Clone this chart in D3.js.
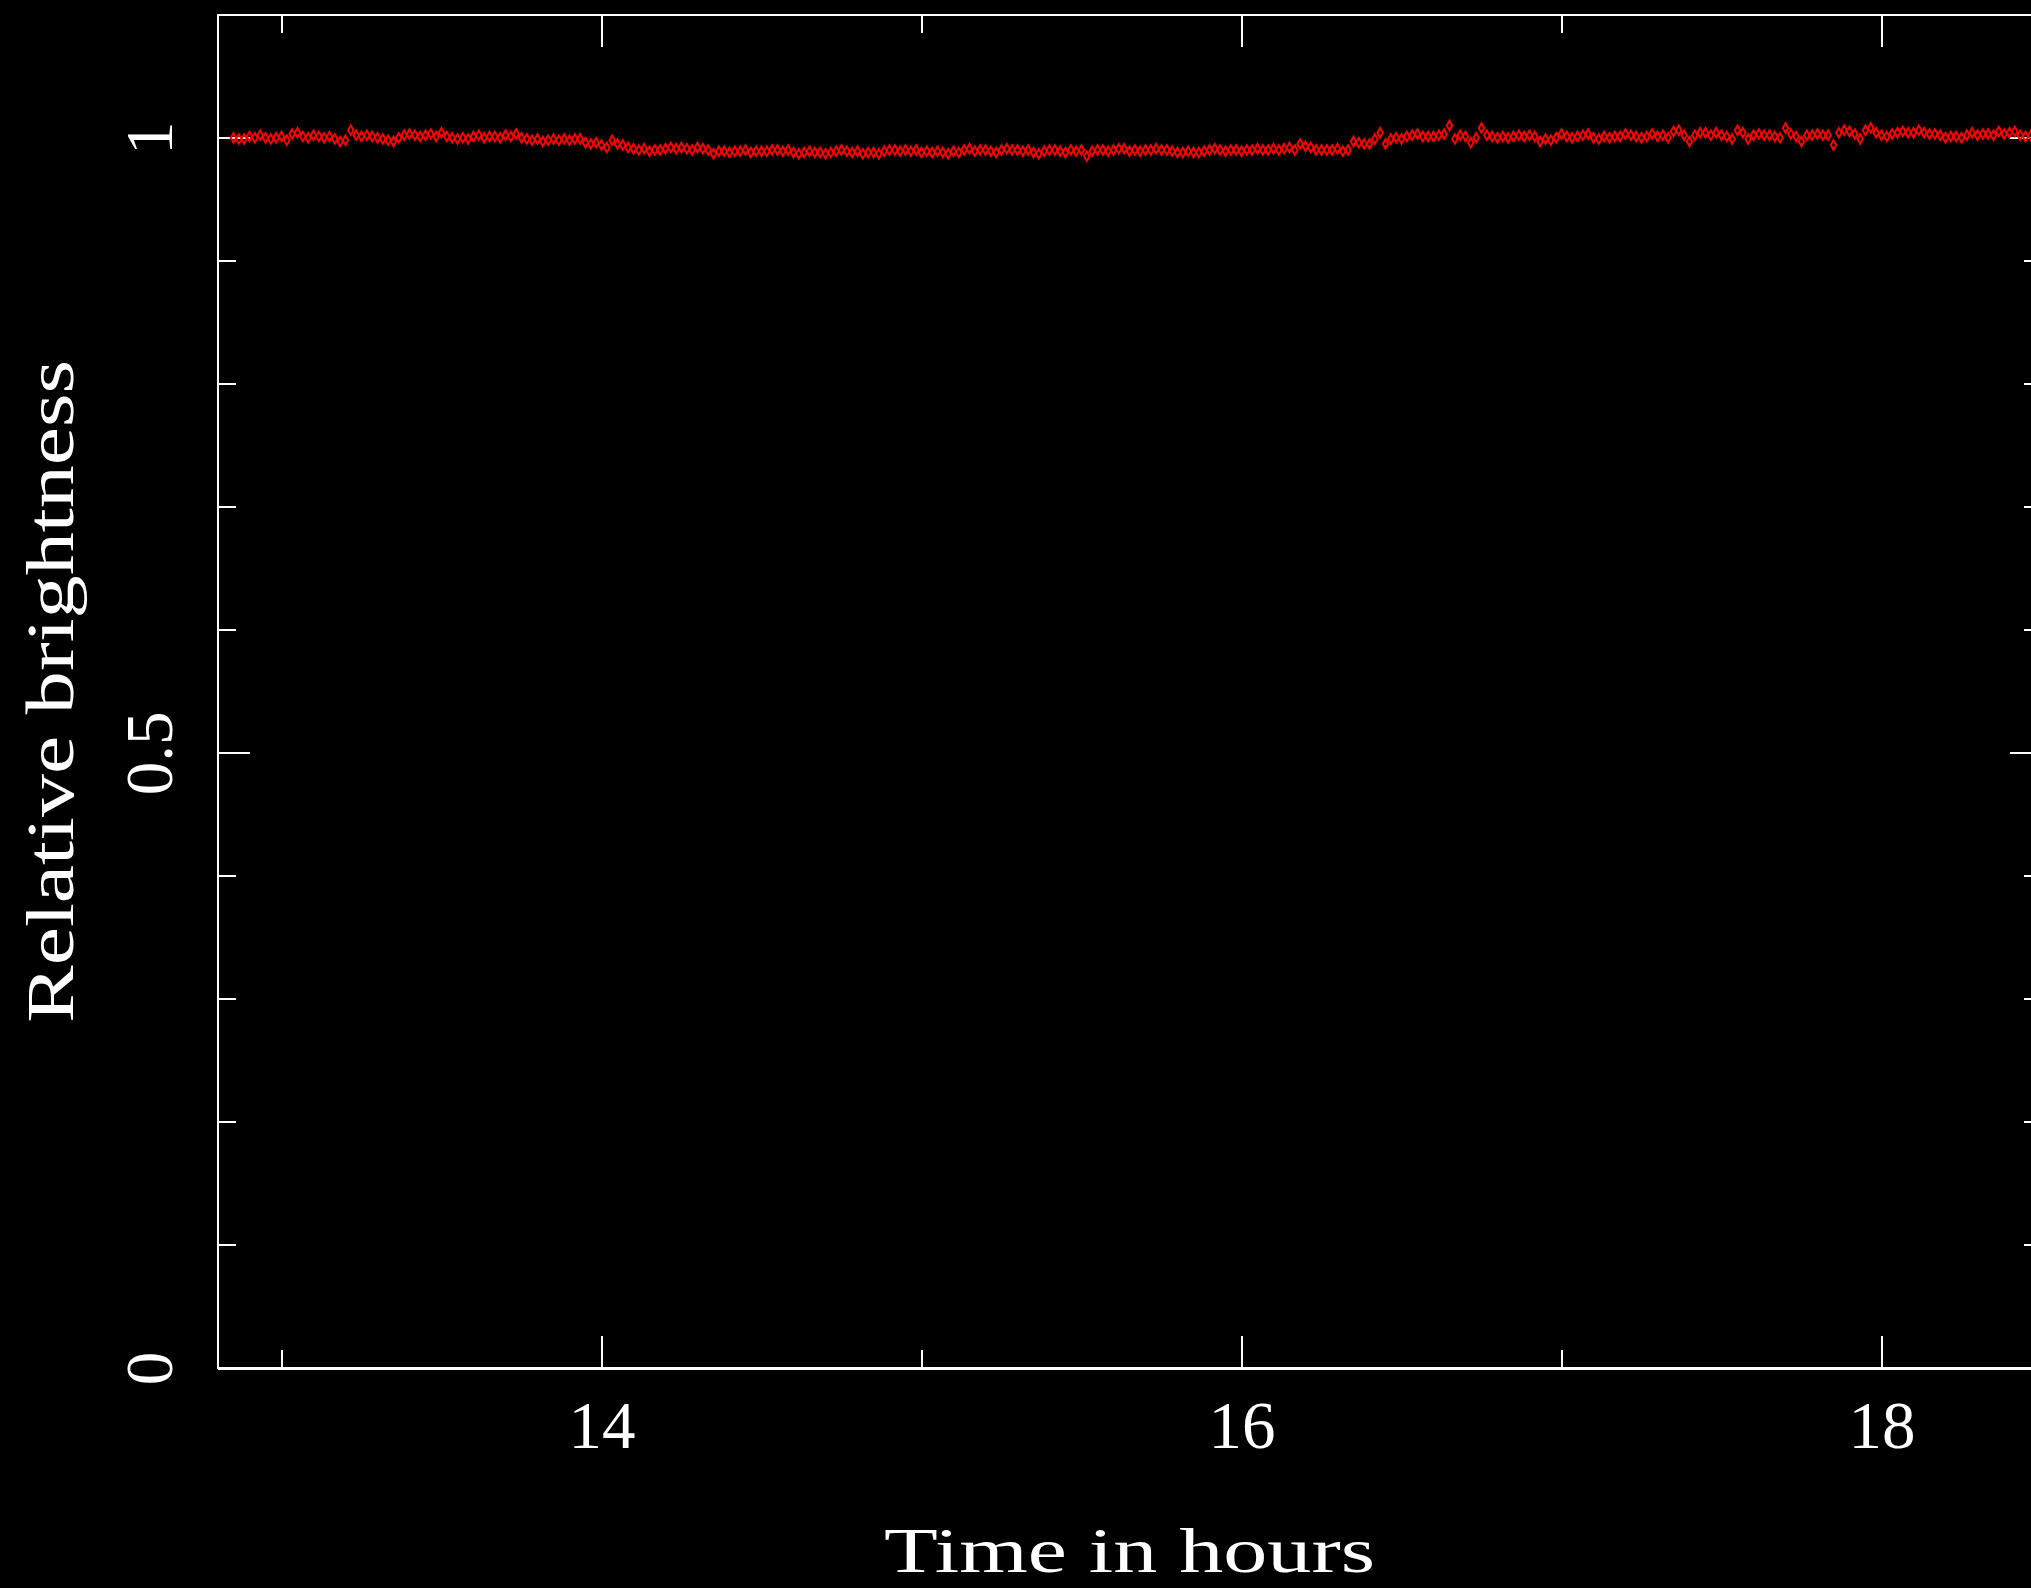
<!DOCTYPE html>
<html>
<head>
<meta charset="utf-8">
<script src="https://cdn.jsdelivr.net/npm/d3@7"></script>
<style>
  html, body { margin: 0; padding: 0; background: #000; }
  svg { display: block; }
</style>
</head>
<body>
<script>
// ---- data ----
const startHour = 12.85;          // time of first sample (hours)
const cadenceHours = 1 / 60;      // one sample per minute
const brightness = [
  // 12.85 - 13.17
  1.000, 0.999, 0.999, 1.001, 1.000, 1.002, 1.000, 0.999, 1.000, 1.001,
  0.998, 1.003, 1.004, 1.001, 1.000, 1.002, 1.001, 1.000, 1.001, 0.999,
  // 13.18 - 13.50
  0.997, 0.998, 1.006, 1.002, 1.001, 1.002, 1.001, 1.000, 0.999, 0.998,
  0.997, 1.000, 1.002, 1.003, 1.002, 1.001, 1.002, 1.003, 1.001, 1.004,
  // 13.52 - 13.83
  1.001, 1.000, 0.999, 1.000, 0.999, 1.001, 1.002, 1.000, 1.001, 1.001,
  1.000, 1.002, 1.001, 1.003, 1.000, 0.999, 0.998, 0.999, 0.997, 0.998,
  // 13.85 - 14.17
  0.999, 0.998, 0.999, 0.998, 0.999, 0.999, 0.996, 0.995, 0.996, 0.994,
  0.992, 0.998, 0.995, 0.994, 0.992, 0.991, 0.990, 0.991, 0.989, 0.990,
  // 14.18 - 14.50
  0.990, 0.991, 0.992, 0.991, 0.992, 0.991, 0.990, 0.992, 0.991, 0.990,
  0.987, 0.989, 0.989, 0.988, 0.989, 0.989, 0.990, 0.988, 0.989, 0.989,
  // 14.52 - 14.83
  0.989, 0.990, 0.990, 0.989, 0.990, 0.988, 0.987, 0.988, 0.989, 0.988,
  0.988, 0.987, 0.988, 0.989, 0.990, 0.989, 0.988, 0.989, 0.987, 0.988,
  // 14.85 - 15.17
  0.988, 0.987, 0.989, 0.990, 0.990, 0.989, 0.990, 0.989, 0.990, 0.988,
  0.989, 0.988, 0.989, 0.988, 0.987, 0.989, 0.988, 0.990, 0.991, 0.989,
  // 15.18 - 15.50
  0.990, 0.990, 0.989, 0.988, 0.990, 0.991, 0.990, 0.990, 0.989, 0.990,
  0.988, 0.987, 0.989, 0.990, 0.990, 0.989, 0.988, 0.990, 0.989, 0.990,
  // 15.52 - 15.83
  0.985, 0.989, 0.990, 0.990, 0.989, 0.990, 0.991, 0.991, 0.989, 0.990,
  0.989, 0.990, 0.990, 0.991, 0.990, 0.990, 0.989, 0.988, 0.988, 0.989,
  // 15.85 - 16.17
  0.988, 0.988, 0.989, 0.990, 0.991, 0.990, 0.989, 0.990, 0.990, 0.989,
  0.990, 0.990, 0.991, 0.990, 0.990, 0.991, 0.990, 0.991, 0.992, 0.990,
  // 16.18 - 16.50
  0.995, 0.993, 0.992, 0.990, 0.990, 0.990, 0.990, 0.991, 0.989, 0.990,
  0.997, 0.996, 0.995, 0.995, 0.999, 1.004, 0.995, 0.999, 1.000, 0.999,
  // 16.52 - 16.83
  1.001, 1.002, 1.003, 1.001, 1.001, 1.001, 1.002, 1.003, 1.010, 0.999,
  1.002, 1.001, 0.996, 1.000, 1.008, 1.002, 1.001, 1.000, 1.001, 1.000,
  // 16.85 - 17.17
  1.001, 1.002, 1.001, 1.002, 1.001, 0.997, 0.999, 0.998, 1.000, 1.003,
  1.001, 1.000, 1.001, 1.002, 1.003, 1.000, 0.999, 1.001, 1.000, 1.001,
  // 17.18 - 17.50
  1.001, 1.003, 1.002, 1.001, 1.000, 1.001, 1.003, 1.001, 1.002, 1.000,
  1.005, 1.006, 1.002, 0.997, 1.002, 1.004, 1.004, 1.002, 1.004, 1.002,
  // 17.52 - 17.83
  1.001, 0.999, 1.006, 1.004, 0.999, 1.002, 1.003, 1.002, 1.002, 1.001,
  1.000, 1.008, 1.003, 1.001, 0.997, 1.002, 1.002, 1.003, 1.002, 1.002,
  // 17.85 - 18.17
  0.994, 1.004, 1.006, 1.005, 1.003, 0.999, 1.006, 1.008, 1.004, 1.002,
  1.001, 1.003, 1.004, 1.005, 1.004, 1.004, 1.006, 1.004, 1.003, 1.003,
  // 18.18 - 18.48
  1.002, 1.000, 1.001, 1.001, 1.000, 1.002, 1.004, 1.002, 1.003, 1.003,
  1.002, 1.005, 1.003, 1.004, 1.005, 1.002, 1.001, 1.002, 1.001
];

const xDomain = [12.8, 18.5];
const yDomain = [0, 1.1];
const xMajorTicks = [14, 16, 18];
const xMinorTicks = [13, 15, 17];
const xTickLabels = ["14", "16", "18"];
const yMajorTicks = [0, 0.5, 1];
const yMinorTicks = [0.1, 0.2, 0.3, 0.4, 0.6, 0.7, 0.8, 0.9];
const yTickLabels = ["0", "0.5", "1"];
const xTitle = "Time in hours";
const yTitle = "Relative brightness";

// ---- layout ----
const W = 2031, H = 1588;
const plotLeft = 217.5, plotRight = 2041.5, plotTop = 14.7, plotBottom = 1368;
const majorLen = 32, minorLen = 18;
const fontFamily = "'Liberation Serif', 'DejaVu Serif', serif";
const red = "#ff0000";

const svg = d3.select("body").append("svg")
  .attr("width", W).attr("height", H)
  .style("background", "#000");

svg.append("rect").attr("width", W).attr("height", H).attr("fill", "#000");

const x = d3.scaleLinear().domain(xDomain).range([plotLeft, plotRight]);
const y = d3.scaleLinear().domain(yDomain).range([plotBottom, plotTop]);

function styleAxis(g) {
  g.selectAll("path, line").attr("stroke", "#fff").attr("stroke-width", 2)
    .attr("shape-rendering", "crispEdges");
  g.selectAll("text").attr("fill", "#fff")
    .attr("font-family", fontFamily).attr("font-size", 67);
}

// bottom axis (major with labels, minor without)
const gBottom = svg.append("g").attr("transform", `translate(0,${plotBottom})`)
  .call(d3.axisBottom(x).tickValues(xMajorTicks).tickSize(-majorLen).tickSizeOuter(0)
    .tickFormat((d, i) => xTickLabels[i]));
gBottom.selectAll("text").attr("y", 80).attr("dy", 0);
styleAxis(gBottom);
const gBottomMinor = svg.append("g").attr("transform", `translate(0,${plotBottom})`)
  .call(d3.axisBottom(x).tickValues(xMinorTicks).tickSize(-minorLen).tickSizeOuter(0).tickFormat(""));
styleAxis(gBottomMinor);

// top axis
const gTop = svg.append("g").attr("transform", `translate(0,${plotTop})`)
  .call(d3.axisTop(x).tickValues(xMajorTicks).tickSize(-majorLen).tickSizeOuter(0).tickFormat(""));
styleAxis(gTop);
const gTopMinor = svg.append("g").attr("transform", `translate(0,${plotTop})`)
  .call(d3.axisTop(x).tickValues(xMinorTicks).tickSize(-minorLen).tickSizeOuter(0).tickFormat(""));
styleAxis(gTopMinor);

// left axis
const gLeft = svg.append("g").attr("transform", `translate(${plotLeft},0)`)
  .call(d3.axisLeft(y).tickValues(yMajorTicks).tickSize(-majorLen).tickSizeOuter(0)
    .tickFormat((d, i) => yTickLabels[i]));
gLeft.selectAll("text")
  .attr("x", null).attr("dy", null)
  .attr("text-anchor", "middle")
  .attr("transform", `translate(${172 - plotLeft},0) rotate(-90)`);
styleAxis(gLeft);
const gLeftMinor = svg.append("g").attr("transform", `translate(${plotLeft},0)`)
  .call(d3.axisLeft(y).tickValues(yMinorTicks).tickSize(-minorLen).tickSizeOuter(0).tickFormat(""));
styleAxis(gLeftMinor);

// right axis
const gRight = svg.append("g").attr("transform", `translate(${plotRight},0)`)
  .call(d3.axisRight(y).tickValues(yMajorTicks).tickSize(-majorLen).tickSizeOuter(0).tickFormat(""));
styleAxis(gRight);
const gRightMinor = svg.append("g").attr("transform", `translate(${plotRight},0)`)
  .call(d3.axisRight(y).tickValues(yMinorTicks).tickSize(-minorLen).tickSizeOuter(0).tickFormat(""));
styleAxis(gRightMinor);

// frame
svg.append("rect")
  .attr("x", plotLeft).attr("y", plotTop)
  .attr("width", plotRight - plotLeft).attr("height", plotBottom - plotTop)
  .attr("fill", "none").attr("stroke", "#fff").attr("stroke-width", 2)
  .attr("shape-rendering", "crispEdges");

// data points
const points = brightness.map((v, i) => ({ t: startHour + i * cadenceHours, v }));
const diamond = d3.symbol().type(d3.symbolDiamond).size(26);
svg.append("g").selectAll("path").data(points).join("path")
  .attr("d", diamond)
  .attr("transform", d => `translate(${x(d.t)},${y(d.v)})`)
  .attr("fill", "none")
  .attr("stroke", red)
  .attr("stroke-width", 2);

// titles
svg.append("text")
  .attr("x", (plotLeft + plotRight) / 2).attr("y", 1572)
  .attr("text-anchor", "middle")
  .attr("fill", "#fff").attr("font-family", fontFamily).attr("font-size", 64)
  .attr("textLength", 491).attr("lengthAdjust", "spacingAndGlyphs")
  .text(xTitle);

svg.append("text")
  .attr("transform", `translate(73,${(plotTop + plotBottom) / 2}) rotate(-90)`)
  .attr("text-anchor", "middle")
  .attr("fill", "#fff").attr("font-family", fontFamily).attr("font-size", 68)
  .attr("textLength", 663).attr("lengthAdjust", "spacingAndGlyphs")
  .text(yTitle);
</script>
</body>
</html>
